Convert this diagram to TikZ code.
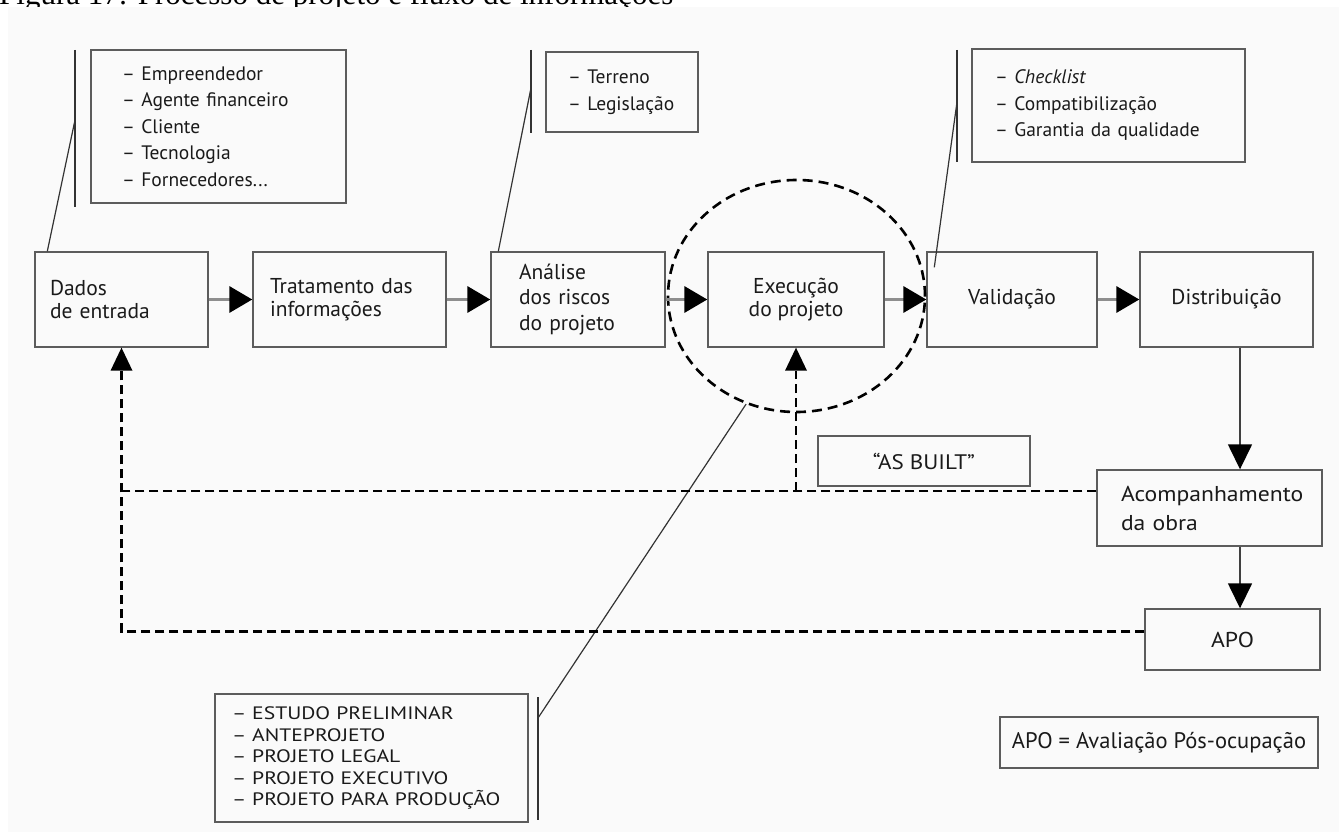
\documentclass[tikz,border=0pt]{standalone}
\usepackage{fontspec}
\setmainfont{PT Sans}
\newfontfamily\widefont[FakeStretch=1.2]{PT Sans}
\newfontfamily\midfont[FakeStretch=1.1]{PT Sans}
\newfontfamily\capfont{Liberation Serif}
\usetikzlibrary{arrows.meta,shapes.geometric,calc}
\definecolor{ink}{HTML}{1A1A1A}
\definecolor{edge}{HTML}{5C5C5C}
\definecolor{shaft}{HTML}{8E8E8E}
\definecolor{bgc}{HTML}{FAFAFA}
\begin{document}
\begin{tikzpicture}[x=1pt,y=-1pt,
  box/.style={draw=edge, line width=1.4pt, text=ink, inner sep=0pt,
    font=\fontsize{21.5}{23.5}\selectfont},
  cbox/.style={draw=edge, line width=1.4pt, text=ink, inner sep=0pt, align=left,
    font=\fontsize{19.5}{26.5}\selectfont},
  flow/.style={draw=shaft, line width=3.5pt,
    -{Triangle[length=23pt,width=26pt,color=black]}},
  vflow/.style={draw=black!75, line width=1.5pt,
    -{Triangle[length=25pt,width=24pt,color=black]}},
  fb/.style={draw=black, line width=2.8pt, dash pattern=on 9pt off 5pt},
  fbarrow/.style={fb, -{Triangle[length=23pt,width=22pt,color=black,line width=0pt]}},
  callout/.style={draw=black!80, line width=1.2pt},
]
\useasboundingbox (0,0) rectangle (1339,832);
\clip (0,0) rectangle (1339,832);

% caption (cut off at the top, as in the reference)
\node[anchor=base west, inner sep=0pt, font=\capfont\fontsize{31}{31}\selectfont]
  (cap) at (-1,5) {Figura 17: Processo de projeto e fluxo de informações};
\fill[bgc] (8,7) rectangle (1339,832);

% main row
\node[box, minimum width=173, minimum height=95, text width=143, align=left]
  (dados) at (121.5,299.5) {Dados\\de entrada};
\node[box, minimum width=193, minimum height=95, text width=159, align=left]
  (trat) at (349.5,299.5) {Tratamento das\\informações};
\node[box, minimum width=174, minimum height=95, text width=118, align=left,
  font=\fontsize{21.5}{25.5}\selectfont]
  (anal) at (578,299.5) {Análise\\dos riscos\\do projeto};
\node[box, minimum width=176, minimum height=95, align=center]
  (exec) at (796,299.5) {Execução\\do projeto};
\node[box, minimum width=170, minimum height=95]
  (valid) at (1012,299.5) {Validação};
\node[box, minimum width=173, minimum height=95]
  (distr) at (1226.5,299.5) {Distribuição};

% right column
\node[box, minimum width=225, minimum height=76, text width=177, align=left,
  font=\midfont\fontsize{21.5}{29}\selectfont]
  (acomp) at (1209.5,508) {Acompanhamento\\da obra};
\node[box, minimum width=175, minimum height=61, font=\midfont\fontsize{21.5}{24}\selectfont]
  (apo) at (1232.5,639.5) {APO};
\node[box, minimum width=212, minimum height=50, font=\midfont\fontsize{21}{24}\selectfont]
  (asb) at (924,461) {“AS BUILT”};
\node[box, minimum width=318, minimum height=51, font=\fontsize{22.5}{26}\selectfont]
  (leg) at (1159,742.5) {APO = Avaliação Pós-ocupação};

% dashed ellipse around Execução
\node[draw=black, line width=2.6pt, dash pattern=on 10pt off 6pt, ellipse,
  minimum width=257, minimum height=232, inner sep=0pt] (oval) at (796.5,296) {};

% callout boxes
\node[cbox, minimum width=255, minimum height=153, text width=193]
  (c1) at (218.5,126.5) {– Empreendedor\\– Agente financeiro\\– Cliente\\– Tecnologia\\– Fornecedores...};
\node[cbox, minimum width=152, minimum height=80, text width=108, font=\fontsize{19.5}{27}\selectfont]
  (c2) at (622,92) {– Terreno\\– Legislação};
\node[cbox, minimum width=273, minimum height=113, text width=227]
  (c3) at (1108.5,105.5) {– \textit{Checklist}\\– Compatibilização\\– Garantia da qualidade};
\node[cbox, minimum width=313, minimum height=128, text width=279,
  font=\widefont\fontsize{18}{21.5}\selectfont]
  (c4) at (371.5,758) {– ESTUDO PRELIMINAR\\– ANTEPROJETO\\– PROJETO LEGAL\\– PROJETO EXECUTIVO\\– PROJETO PARA PRODUÇÃO};

% callout brackets and leader lines
\coordinate (k1t) at (75,50);  \coordinate (k1b) at (75,207);  \coordinate (k1) at (75,120);
\coordinate (k2t) at (531,50); \coordinate (k2b) at (531,133); \coordinate (k2) at (531,88);
\coordinate (k3t) at (957,50); \coordinate (k3b) at (957,162); \coordinate (k3) at (957,102);
\coordinate (k4t) at (538,697);\coordinate (k4b) at (538,820); \coordinate (k4) at (538,718);
\draw[callout] (k1t) -- (k1b);
\draw[callout] (k2t) -- (k2b);
\draw[callout] (k3t) -- (k3b);
\draw[callout] (k4t) -- (k4b);
\draw[callout] (k1) -- ($(dados.north west)+(13,0)$);
\draw[callout] (k2) -- ($(anal.north west)+(8,0)$);
\draw[callout] (k3) -- ($(valid.north west)+(8,16)$);
\draw[callout] (k4) -- (oval.245);

% main flow arrows
\draw[flow] (dados.east) -- (trat.west);
\draw[flow] (trat.east) -- (anal.west);
\draw[flow] (anal.east) -- (exec.west);
\draw[flow] (exec.east) -- (valid.west);
\draw[flow] (valid.east) -- (distr.west);

% vertical arrows on the right
\coordinate (vx) at (1240,0);
\draw[vflow] (vx |- distr.south) -- (vx |- acomp.north);
\draw[vflow] (vx |- acomp.south) -- (vx |- apo.north);

% feedback (dashed) lines
\coordinate (fa) at ($(acomp.west)+(0,-17)$);
\coordinate (fp) at ($(apo.west)+(0,-8)$);
\draw[fb] (fa) -- (fa -| dados.south);
\draw[fbarrow] (fp) -- (fp -| dados.south) -- (dados.south);
\draw[fbarrow] (fa -| exec.south) -- (exec.south);
\end{tikzpicture}
\end{document}
